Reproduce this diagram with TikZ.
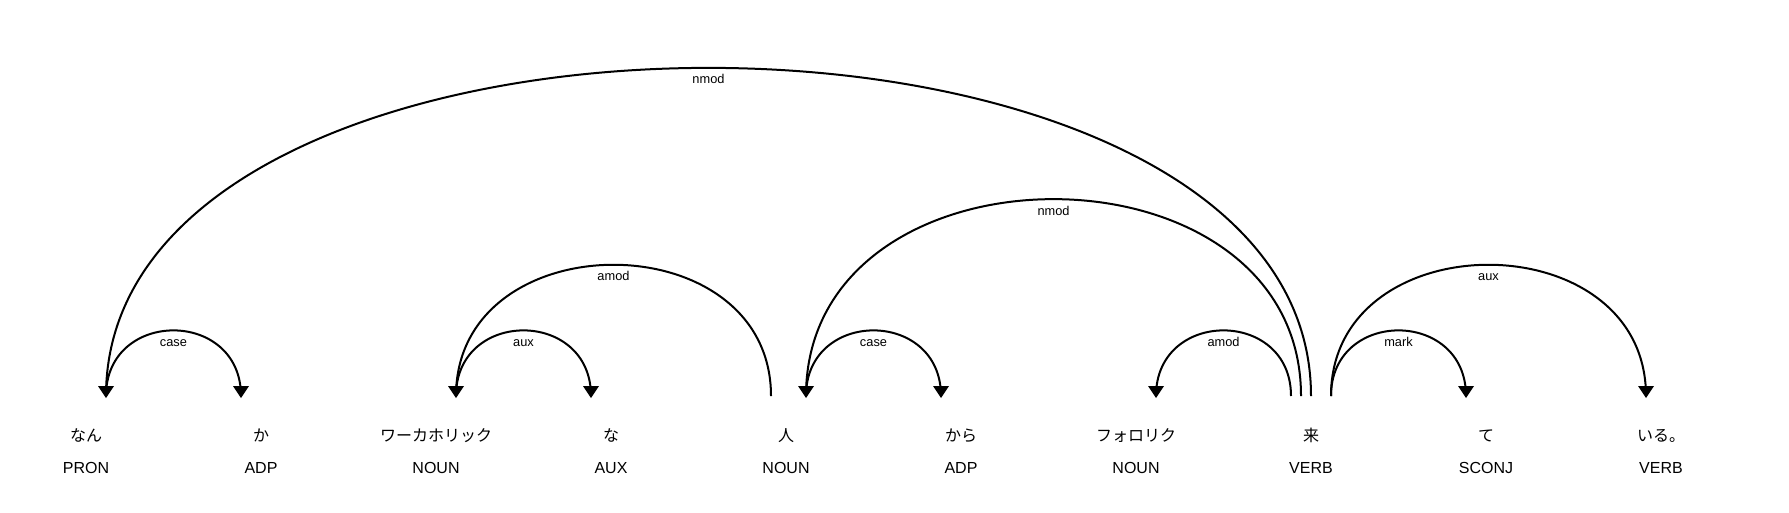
\documentclass[tikz,border=0pt]{standalone}
\usepackage{fontspec}
\setmainfont{Liberation Sans}
\newfontfamily\jpfont{Noto Sans CJK JP}
\usetikzlibrary{calc}
\begin{document}
\begin{tikzpicture}[x=0.75pt,y=-0.75pt,
  word/.style={anchor=base,inner sep=0pt,font=\jpfont\fontsize{12}{14}\selectfont},
  tagtext/.style={anchor=base,inner sep=0pt,font=\fontsize{12}{14}\selectfont},
  arclabel/.style={anchor=base,inner sep=0pt,font=\fontsize{9.6}{11}\selectfont},
  arcline/.style={line width=1.5pt,line cap=butt},
  head/.style={fill=black}]
\useasboundingbox (0,0) rectangle (1789,512);
% words and tags
\foreach \i/\w/\t in {0/なん/PRON,1/か/ADP,2/ワーカホリック/NOUN,3/な/AUX,4/人/NOUN,5/から/ADP,6/フォロリク/NOUN,7/来/VERB,8/て/SCONJ,9/いる。/VERB}{
  \node[word] (w\i) at (86+175*\i,441) {\w};
  \node[tagtext] (t\i) at (86+175*\i,473) {\t};
}
% arc end points
\coordinate (a1s) at (106,396);  \coordinate (a1e) at (1311,396);
\coordinate (a2s) at (106,396);  \coordinate (a2e) at (241,396);
\coordinate (a3s) at (456,396);  \coordinate (a3e) at (771,396);
\coordinate (a4s) at (456,396);  \coordinate (a4e) at (591,396);
\coordinate (a5s) at (806,396);  \coordinate (a5e) at (1301,396);
\coordinate (a6s) at (806,396);  \coordinate (a6e) at (941,396);
\coordinate (a7s) at (1156,396); \coordinate (a7e) at (1291,396);
\coordinate (a8s) at (1331,396); \coordinate (a8e) at (1466,396);
\coordinate (a9s) at (1331,396); \coordinate (a9e) at (1646,396);
% arcs
\draw[arcline] (a1s) .. controls +(0,-437.5) and +(0,-437.5) .. (a1e);
\draw[arcline] (a2s) .. controls +(0,-87.5) and +(0,-87.5) .. (a2e);
\draw[arcline] (a3s) .. controls +(0,-175) and +(0,-175) .. (a3e);
\draw[arcline] (a4s) .. controls +(0,-87.5) and +(0,-87.5) .. (a4e);
\draw[arcline] (a5s) .. controls +(0,-262.5) and +(0,-262.5) .. (a5e);
\draw[arcline] (a6s) .. controls +(0,-87.5) and +(0,-87.5) .. (a6e);
\draw[arcline] (a7s) .. controls +(0,-87.5) and +(0,-87.5) .. (a7e);
\draw[arcline] (a8s) .. controls +(0,-87.5) and +(0,-87.5) .. (a8e);
\draw[arcline] (a9s) .. controls +(0,-175) and +(0,-175) .. (a9e);
% arrow heads
\foreach \p in {a1s,a2e,a3s,a4e,a5s,a6e,a7s,a8e,a9e}{
  \fill[head] ($(\p)+(0,2)$) -- ++(-8,-12) -- ++(16,0) -- cycle;
}
% labels
\node[arclabel] (l1) at (708.5,83.9) {nmod};
\node[arclabel] (l2) at (173.5,346.4) {case};
\node[arclabel] (l3) at (613.5,280.75) {amod};
\node[arclabel] (l4) at (523.5,346.4) {aux};
\node[arclabel] (l5) at (1053.5,215.1) {nmod};
\node[arclabel] (l6) at (873.5,346.4) {case};
\node[arclabel] (l7) at (1223.5,346.4) {amod};
\node[arclabel] (l8) at (1398.5,346.4) {mark};
\node[arclabel] (l9) at (1488.5,280.75) {aux};
\end{tikzpicture}
\end{document}
